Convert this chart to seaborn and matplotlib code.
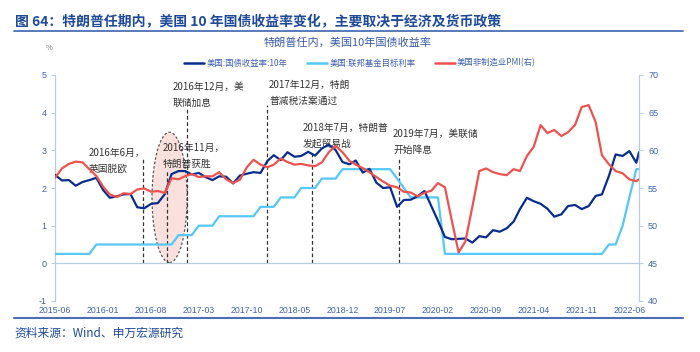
import numpy as np
import pandas as pd
import matplotlib
matplotlib.use('Agg')
import matplotlib.pyplot as plt
import matplotlib.dates as mdates
from matplotlib.patches import Ellipse
from matplotlib.lines import Line2D
import seaborn as sns

sns.set_style('white')
plt.rcParams['font.family'] = ['Noto Sans CJK SC', 'DejaVu Sans']
plt.rcParams['axes.unicode_minus'] = False

# month-end observations 2015-06 .. 2022-07, last one mid-Aug 2022
dates = list(pd.date_range('2015-06-30', periods=86, freq='ME')) + [pd.Timestamp('2022-08-12')]

ust10y = [2.35, 2.20, 2.21, 2.06, 2.16, 2.21, 2.27,
          1.94, 1.74, 1.78, 1.83, 1.84, 1.49, 1.46, 1.58, 1.60, 1.84, 2.37, 2.45,
          2.45, 2.36, 2.40, 2.29, 2.21, 2.31, 2.30, 2.12, 2.33, 2.38, 2.42, 2.40,
          2.72, 2.87, 2.74, 2.95, 2.83, 2.85, 2.96, 2.86, 3.05, 3.15, 3.01, 2.69,
          2.63, 2.73, 2.41, 2.51, 2.14, 2.00, 2.02, 1.50, 1.68, 1.69, 1.78, 1.92,
          1.51, 1.13, 0.70, 0.64, 0.65, 0.66, 0.55, 0.72, 0.69, 0.88, 0.84, 0.93,
          1.11, 1.44, 1.74, 1.65, 1.58, 1.45, 1.24, 1.30, 1.52, 1.55, 1.44, 1.52,
          1.79, 1.83, 2.32, 2.89, 2.85, 2.98, 2.67, 2.95]

fed_target = [0.25, 0.25, 0.25, 0.25, 0.25, 0.25, 0.50,
              0.50, 0.50, 0.50, 0.50, 0.50, 0.50, 0.50, 0.50, 0.50, 0.50, 0.50, 0.75,
              0.75, 0.75, 1.00, 1.00, 1.00, 1.25, 1.25, 1.25, 1.25, 1.25, 1.25, 1.50,
              1.50, 1.50, 1.75, 1.75, 1.75, 2.00, 2.00, 2.00, 2.25, 2.25, 2.25, 2.50,
              2.50, 2.50, 2.50, 2.50, 2.50, 2.50, 2.50, 2.25, 2.00, 1.75, 1.75, 1.75,
              1.75, 1.75, 0.25, 0.25, 0.25, 0.25, 0.25, 0.25, 0.25, 0.25, 0.25, 0.25,
              0.25, 0.25, 0.25, 0.25, 0.25, 0.25, 0.25, 0.25, 0.25, 0.25, 0.25, 0.25,
              0.25, 0.25, 0.50, 0.50, 1.00, 1.75, 2.50, 2.50]

pmi_nonmfg = [56.35, 57.6, 58.2, 58.5, 58.4, 57.5, 56.6,
              55.15, 54.15, 53.8, 54.3, 54.2, 54.8, 54.95, 54.5, 54.6, 54.35, 56.3, 56.15,
              56.6, 56.85, 56.45, 56.55, 56.55, 57.1, 56.15, 55.65, 56.1, 57.75, 58.75, 58.1,
              57.75, 58.1, 58.9, 58.45, 58.1, 58.2, 58.0, 57.9, 58.4, 59.75, 60.6, 59.75,
              58.6, 58.1, 57.65, 57.1, 56.45, 55.85, 55.3, 55.1, 54.5, 54.4, 53.9, 54.35,
              54.65, 55.65, 55.1, 50.75, 46.45, 47.9, 52.5, 57.25, 57.6, 57.1, 56.85, 56.7,
              57.5, 57.25, 59.25, 60.45, 63.35, 62.3, 62.7, 61.9, 62.4, 63.35, 65.75, 66.0,
              63.75, 59.35, 58.15, 57.25, 56.95, 56.15, 55.9, 56.15]

series_names = ['美国:国债收益率:10年', '美国:联邦基金目标利率', '美国非制造业PMI(右)']

# event markers: date of the dashed line, top of the line (left axis), text lines
events = [
    ('2016-07-26', 2.82, '2016年6月，\n英国脱欧'),
    ('2016-11-10', 2.45, '2016年11月，\n特朗普获胜'),
    ('2017-02-08', 4.15, '2016年12月，美\n联储加息'),
    ('2018-01-28', 4.20, '2017年12月，特朗\n普减税法案通过'),
    ('2018-08-17', 2.95, '2018年7月，特朗普\n发起贸易战'),
    ('2019-09-09', 2.82, '2019年7月，美联储\n开始降息'),
]
# text anchor (left edge, vertical middle) in figure pixels
event_text_px = [(89, 161), (163, 156), (173, 94.5), (269, 92.5), (303, 135.5), (393, 141.5)]

W, H = 700, 352
def fx(x):
    return x / W
def fy(y):
    return 1 - y / H

c_navy = '#0a2d8c'
c_cyan = '#55c8f7'
c_red = '#ec5350'
c_spine = '#b8cce4'
c_tick = '#3f62ad'

fig = plt.figure(figsize=(7, 3.52), dpi=100)
ax = fig.add_axes([fx(55), fy(301), (639 - 55) / W, (301 - 75) / H])
ax2 = ax.twinx()

ax.add_patch(Ellipse((mdates.date2num(pd.Timestamp('2016-11-21')), 1.75), width=156, height=3.46,
                     facecolor='#fbe1dd', edgecolor='#555555', linestyle=(0, (2, 1.6)),
                     lw=0.9, zorder=1))

for (d, top, txt), (tx, ty) in zip(events, event_text_px):
    ax.vlines(pd.Timestamp(d), 0, top, colors='#333333', linestyles=(0, (3, 2)), lw=0.9, zorder=2)
    ax.text(fx(tx), fy(ty), txt, transform=fig.transFigure, fontsize=7, color='#333333',
            va='center', ha='left', linespacing=1.75, zorder=2)

sns.lineplot(x=dates, y=ust10y, ax=ax, color=c_navy, linewidth=1.6, zorder=4)
sns.lineplot(x=dates, y=fed_target, ax=ax, color=c_cyan, linewidth=1.6, zorder=3)
sns.lineplot(x=dates, y=pmi_nonmfg, ax=ax2, color=c_red, linewidth=1.6, zorder=3)

ax.set_xlim(dates[0], dates[-1])
ax.set_ylim(-1, 5)
ax2.set_ylim(40, 70)
ax.set_yticks(range(-1, 6))
ax2.set_yticks(range(40, 71, 5))
ax.set_xticks(pd.date_range('2015-06-30', '2022-06-30', freq='7ME'))
ax.xaxis.set_major_formatter(mdates.DateFormatter('%Y-%m'))
ax.set_xlabel('')
ax.set_ylabel('')
ax2.set_ylabel('')

for s in ['top', 'right']:
    ax.spines[s].set_visible(False)
for s in ['top', 'left', 'bottom']:
    ax2.spines[s].set_visible(False)
ax.spines['bottom'].set_position(('data', 0))
for sp in [ax.spines['left'], ax.spines['bottom'], ax2.spines['right']]:
    sp.set_color(c_spine)
    sp.set_linewidth(0.9)

ax.tick_params(axis='x', length=3, width=0.8, color=c_spine, pad=28, labelsize=6.3, labelcolor=c_tick)
ax.tick_params(axis='y', length=3, width=0.8, color=c_spine, pad=3, labelsize=6.5, labelcolor=c_tick)
ax2.tick_params(axis='y', length=3, width=0.8, color=c_spine, pad=3.5, labelsize=6.5, labelcolor=c_tick)
for lbl in ax.get_xticklabels() + ax.get_yticklabels() + ax2.get_yticklabels():
    lbl.set_fontfamily('Liberation Sans')

handles = [Line2D([], [], color=c, lw=1.8) for c in [c_navy, c_cyan, c_red]]
fig.legend(handles, series_names, loc='center', bbox_to_anchor=(fx(360), fy(63)), ncol=3,
           frameon=False, fontsize=6, labelcolor=c_tick, handlelength=2.4,
           handletextpad=0.3, columnspacing=2.3)

# header, subtitle, source
fig.text(fx(15), fy(22.5), '图 64：特朗普任期内，美国 10 年国债收益率变化，主要取决于经济及货币政策',
         fontsize=10, fontweight='bold', color='#1f4a98', va='center', ha='left')
fig.add_artist(Line2D([fx(14), fx(683)], [fy(30.5), fy(30.5)], color='#4a6fb5', lw=1.3))
fig.text(fx(348), fy(42.7), '特朗普任内，美国10年国债收益率', fontsize=8, color='#3a5aa8',
         va='center', ha='center')
fig.text(fx(49), fy(48), '%', fontsize=5.5, color='#777777', va='center', ha='center')
fig.add_artist(Line2D([fx(14), fx(683)], [fy(318), fy(318)], color='#4a6fb5', lw=1.5))
fig.text(fx(14), fy(333), '资料来源：Wind、申万宏源研究', fontsize=8.5, color='#1f4a98',
         va='center', ha='left')

fig.savefig('out.png', dpi=100)
